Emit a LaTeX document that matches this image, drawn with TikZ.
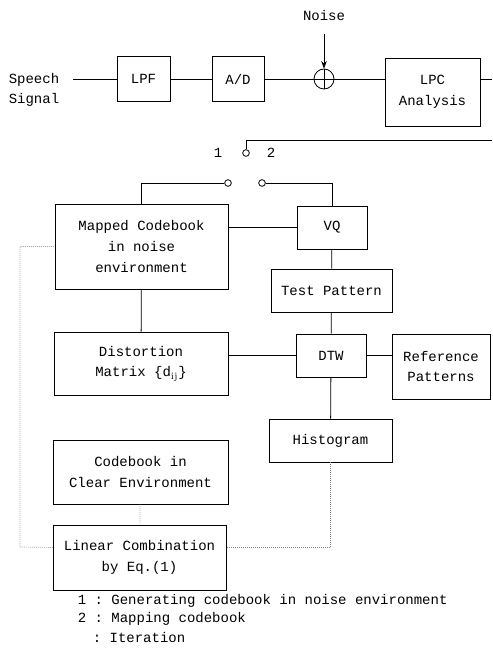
\documentclass[tikz,border=0pt]{standalone}
\usepackage{fontspec}
\setmonofont{Liberation Mono}
\usetikzlibrary{arrows.meta, positioning, calc}

\begin{document}
\begin{tikzpicture}[x=0.75pt, y=-0.75pt, >=Stealth, line width=0.6pt,
    font=\ttfamily\fontsize{10.5}{15.5}\selectfont,
    blk/.style={draw, rectangle, align=center, inner sep=1pt},
    cnt/.style={draw, circle, inner sep=0pt, minimum size=5pt, fill=white},
    iter/.style={densely dotted, gray, line width=0.5pt}]
    \useasboundingbox (0,0) rectangle (492,663);

    % Front end
    \node[align=left] (speech) at (34, 90) {Speech\\Signal};
    \node[blk, minimum width=39.75pt, minimum height=33.75pt] (lpf) at (143.5, 79) {LPF};
    \node[blk, minimum width=39pt, minimum height=33.75pt] (ad) at (238, 79) {A/D};
    \node[draw, circle, inner sep=0pt, minimum size=15pt] (sum) at (324, 79) {};
    \draw (sum.north) -- (sum.south) (sum.west) -- (sum.east);
    \node (noise) at (324, 15) {Noise};
    \node[blk, minimum width=71.25pt, minimum height=51pt] (lpc) at (432.5, 92) {LPC\\Analysis};
    \coordinate (outR) at (492, 79);
    \coordinate (inR) at (492, 140);

    \draw ([xshift=7pt]speech.east |- lpf.west) -- (lpf.west);
    \draw (lpf) -- (ad);
    \draw (ad) -- (sum);
    \draw (sum.east) -- (sum.east -| lpc.west);
    \draw[->, shorten <=7pt] (noise.south) -- (sum.north);
    \draw (lpc.east |- outR) -- (outR);

    % Switch
    \node[cnt] (sw) at (246, 153) {};
    \node[cnt] (swL) at (228, 183) {};
    \node[cnt] (swR) at (262, 183) {};
    \node (one) at (218, 153) {1};
    \node (two) at (271, 153) {2};
    \draw (inR) -| (sw.north);

    % Recognition part
    \node[blk, minimum width=129.75pt, minimum height=63.75pt] (mapped) at (141.5, 246.5) {Mapped Codebook\\in noise\\environment};
    \node[blk, minimum width=52.5pt, minimum height=32.25pt] (vq) at (332, 227.5) {VQ};
    \node[blk, minimum width=90.75pt, minimum height=32.25pt] (test) at (331.5, 290.5) {Test Pattern};
    \node[blk, minimum width=52.5pt, minimum height=32.25pt] (dtw) at (331, 355.5) {DTW};
    \node[blk, minimum width=73.5pt, minimum height=48.75pt] (ref) at (441, 366.5) {Reference\\Patterns};
    \node[blk, minimum width=130.5pt, minimum height=47.25pt] (dist) at (141, 363.5) {Distortion\\Matrix \{d$_{\mathrm{ij}}$\}};
    \node[blk, minimum width=92.25pt, minimum height=32.25pt] (hist) at (330.5, 440.5) {Histogram};
    \node[blk, minimum width=131.25pt, minimum height=48pt] (clear) at (140.5, 472) {Codebook in\\Clear Environment};
    \node[blk, minimum width=129.75pt, minimum height=48.75pt] (linear) at (139.5, 557.5) {Linear Combination\\by Eq.(1)};

    \draw (swL.west) -| (mapped.north);
    \draw (swR.east) -| (vq.north);
    \draw (mapped.east |- vq.west) -- (vq.west);
    \draw (vq) -- (test);
    \draw (test) -- (dtw);
    \draw (dtw) -- (hist);
    \draw (mapped) -- (dist);
    \draw (dist.east |- dtw.west) -- (dtw.west);
    \draw (dtw.east) -- (dtw.east -| ref.west);

    % Iteration loop
    \coordinate (loopL) at (20, 547);
    \draw[iter] (clear) -- (linear);
    \draw[iter] (hist.south) |- ([yshift=7.5pt]linear.east);
    \draw[iter] ([yshift=7.5pt]linear.west) -- (loopL) |- (mapped.west);

    % Legend
    \node[anchor=west] (leg1) at (73, 601) {1 : Generating codebook in noise environment};
    \node[anchor=west] (leg2) at (73, 619) {2 : Mapping codebook};
    \node[anchor=west] (leg3) at (88, 637) {: Iteration};
\end{tikzpicture}
\end{document}
